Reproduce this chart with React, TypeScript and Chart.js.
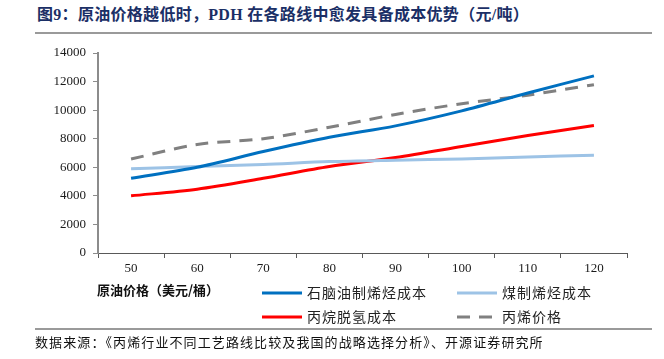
import React, { useEffect, useRef } from "react";
import { Chart, registerables } from "chart.js";

Chart.register(...registerables);

const categories = ["50", "60", "70", "80", "90", "100", "110", "120"];
const naphthaCost = [5230, 6000, 7100, 8100, 8900, 9950, 11200, 12400];
const coalCost = [5900, 6050, 6200, 6400, 6500, 6580, 6720, 6850];
const pdhCost = [4000, 4470, 5230, 6050, 6680, 7450, 8230, 8920];
const propylenePrice = [6580, 7600, 8000, 8800, 9700, 10450, 11050, 11780];
const seriesNames = ["石脑油制烯烃成本", "煤制烯烃成本", "丙烷脱氢成本", "丙烯价格"];
const yTicks = [0, 2000, 4000, 6000, 8000, 10000, 12000, 14000];

const titleText = "图9：原油价格越低时，PDH 在各路线中愈发具备成本优势（元/吨）";
const xTitle = "原油价格（美元/桶）";
const sourceText = "数据来源：《丙烯行业不同工艺路线比较及我国的战略选择分析》、开源证券研究所";

const legendPlugin = {
  id: "customLegend",
  afterDraw(chart: any) {
    const ctx = chart.ctx;
    const slots = [
      { x: 262, y: 293 },
      { x: 457, y: 293 },
      { x: 262, y: 317 },
      { x: 457, y: 317 },
    ];
    ctx.save();
    chart.data.datasets.forEach((ds: any, i: number) => {
      const s = slots[i];
      ctx.beginPath();
      ctx.strokeStyle = ds.borderColor;
      ctx.lineWidth = 3;
      ctx.setLineDash(ds.borderDash || []);
      ctx.moveTo(s.x, s.y);
      ctx.lineTo(s.x + 40, s.y);
      ctx.stroke();
      ctx.setLineDash([]);
      ctx.fillStyle = "#222";
      ctx.font = "14px 'Noto Sans CJK SC'";
      (ctx as any).letterSpacing = "1px";
      ctx.textBaseline = "middle";
      ctx.textAlign = "left";
      ctx.fillText(ds.label, s.x + 45, s.y);
    });
    (ctx as any).letterSpacing = "0px";
    ctx.font = "bold 13px 'Noto Sans CJK SC'";
    ctx.fillStyle = "#111";
    ctx.fillText(xTitle, 97, 290);
    ctx.restore();
  },
};

export default function App() {
  const ref = useRef<HTMLCanvasElement | null>(null);
  useEffect(() => {
    if (!ref.current) return;
    const chart = new Chart(ref.current, {
      type: "line",
      data: {
        labels: categories,
        datasets: [
          { label: seriesNames[0], data: naphthaCost, borderColor: "#0070C0", borderWidth: 3, pointRadius: 0, tension: 0.3, fill: false },
          { label: seriesNames[1], data: coalCost, borderColor: "#9DC3E6", borderWidth: 3, pointRadius: 0, tension: 0.3, fill: false },
          { label: seriesNames[2], data: pdhCost, borderColor: "#FF0000", borderWidth: 3, pointRadius: 0, tension: 0.3, fill: false },
          { label: seriesNames[3], data: propylenePrice, borderColor: "#808080", borderWidth: 3, borderDash: [13, 9], pointRadius: 0, tension: 0.3, fill: false },
        ],
      },
      options: {
        animation: false,
        responsive: false,
        maintainAspectRatio: false,
        layout: { padding: { top: 53, left: 0, right: 37, bottom: 0 } },
        plugins: { legend: { display: false }, tooltip: { enabled: false }, title: { display: false } },
        scales: {
          x: {
            type: "category",
            offset: true,
            grid: { offset: true, drawOnChartArea: false, drawTicks: true, tickLength: 5, color: "#595959" },
            border: { color: "#595959", width: 1 },
            ticks: { font: { family: "'Liberation Serif'", size: 13 }, color: "#1a1a1a", padding: 3, maxRotation: 0 },
            afterFit: (s: any) => { s.height = 106; },
          },
          y: {
            min: 0,
            max: 14000,
            afterBuildTicks: (s: any) => { s.ticks = yTicks.map((v) => ({ value: v })); },
            grid: { drawOnChartArea: false, drawTicks: true, tickLength: 5, color: "#8c8c8c" },
            border: { color: "#8c8c8c", width: 2 },
            ticks: { font: { family: "'Liberation Serif'", size: 13 }, color: "#1a1a1a", padding: 7, callback: (v: any) => String(v) },
            afterFit: (s: any) => { s.width = 98; },
          },
        },
      },
      plugins: [legendPlugin],
    } as any);
    return () => chart.destroy();
  }, []);

  return (
    <div style={{ position: "absolute", left: 0, top: 0, width: 664, height: 359, background: "#fff", overflow: "hidden" }}>
      <div style={{ position: "absolute", left: 37, top: 5, fontFamily: "'Liberation Serif', 'Noto Sans CJK SC'", fontWeight: "bold", fontSize: 16, letterSpacing: "0.3px", color: "#1B2F66", whiteSpace: "nowrap", lineHeight: "20px" }}>
        {titleText}
      </div>
      <div style={{ position: "absolute", left: 35, top: 32, width: 617, height: 2, background: "#9a9a9a" }} />
      <canvas ref={ref} width={664} height={359} style={{ position: "absolute", left: 0, top: 0, width: 664, height: 359 }} />
      <div style={{ position: "absolute", left: 35, top: 328, width: 617, height: 2, background: "#9a9a9a" }} />
      <div style={{ position: "absolute", left: 35, top: 333, fontFamily: "'Noto Sans CJK SC'", fontSize: 13, letterSpacing: "1.1px", color: "#111", whiteSpace: "nowrap", lineHeight: "18px" }}>
        {sourceText}
      </div>
    </div>
  );
}
